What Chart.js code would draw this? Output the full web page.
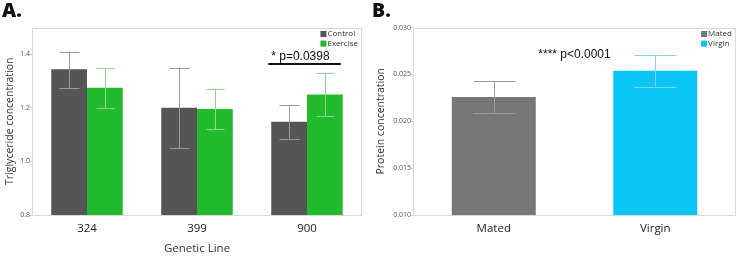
<!DOCTYPE html>
<html>
<head>
<meta charset="utf-8">
<script src="https://cdn.jsdelivr.net/npm/chart.js@4.4.1/dist/chart.umd.min.js"></script>
<style>
  html, body { margin:0; padding:0; background:#fff; }
  #wrap { position:relative; width:740px; height:256px; overflow:hidden; }
  .panel { position:absolute; top:0; width:370px; height:256px; }
  .tag { position:absolute; top:-4px; font:800 19.5px "Open Sans", sans-serif; color:#111; }
</style>
</head>
<body>
<div id="wrap">
  <div class="panel" style="left:0"><canvas id="ca" width="370" height="256"></canvas></div>
  <div class="panel" style="left:370px"><canvas id="cb" width="370" height="256"></canvas></div>
  <div class="tag" style="left:2px">A.</div>
  <div class="tag" style="left:372px">B.</div>
</div>
<script>
// ---------- Data (panel A) ----------
const categoriesA = ['324', '399', '900'];
const seriesNamesA = ['Control', 'Exercise'];
const controlMeans = [1.344, 1.200, 1.148];
const controlLow   = [1.275, 1.050, 1.085];
const controlHigh  = [1.410, 1.350, 1.210];
const exerciseMeans = [1.275, 1.196, 1.250];
const exerciseLow   = [1.200, 1.120, 1.170];
const exerciseHigh  = [1.350, 1.270, 1.330];
const yTicksA = [0.8, 1.0, 1.2, 1.4];
const noteA = '* p=0.0398';
const noteAValue = 1.39;
const noteALineValue = 1.3625;

// ---------- Data (panel B) ----------
const categoriesB = ['Mated', 'Virgin'];
const proteinMeans = [0.0226, 0.0254];
const proteinLow   = [0.0209, 0.0237];
const proteinHigh  = [0.02426, 0.0271];
const yTicksB = [0.010, 0.015, 0.020, 0.025, 0.030];
const noteB = '**** p<0.0001';
const noteBValue = 0.0271;

const AX_FONT = '"Open Sans", sans-serif';

const panelPlugin = {
  id: 'panel',
  beforeDatasetsDraw(chart, args, opts) {
    const { ctx, chartArea: a } = chart;
    ctx.save();
    ctx.strokeStyle = '#d9d9d9';
    ctx.lineWidth = 1;
    ctx.strokeRect(Math.round(a.left) + 0.5, Math.round(a.top) + 0.5,
                   Math.round(a.right - a.left) - 1, Math.round(a.bottom - a.top) - 1);
    ctx.restore();
  },
  afterDatasetsDraw(chart, args, opts) {
    const { ctx, chartArea: a } = chart;
    const y = chart.scales.y;
    ctx.save();
    // error bars
    (opts.errors || []).forEach((e, di) => {
      const meta = chart.getDatasetMeta(di);
      meta.data.forEach((bar, i) => {
        const col = Array.isArray(e.color) ? e.color[i] : e.color;
        const yl = y.getPixelForValue(e.low[i]);
        const yh = y.getPixelForValue(e.high[i]);
        const x = Math.round(bar.x) + 0.5;
        const cw = e.cap / 2;
        ctx.strokeStyle = col;
        ctx.lineWidth = 1;
        ctx.beginPath();
        ctx.moveTo(x, yl); ctx.lineTo(x, yh);
        ctx.moveTo(x - cw, Math.round(yl) + 0.5); ctx.lineTo(x + cw, Math.round(yl) + 0.5);
        ctx.moveTo(x - cw, Math.round(yh) + 0.5); ctx.lineTo(x + cw, Math.round(yh) + 0.5);
        ctx.stroke();
      });
    });
    // legend
    if (opts.legend) {
      ctx.font = '8px ' + AX_FONT;
      const items = opts.legend;
      const maxW = Math.max(...items.map(it => ctx.measureText(it.text).width));
      const sx = a.right - 4 - maxW - 7;
      items.forEach((it, i) => {
        const cy = a.top + 6.5 + i * 9.6;
        ctx.fillStyle = it.color;
        ctx.fillRect(sx, cy - 3, 6, 6);
        ctx.fillStyle = '#333';
        ctx.textBaseline = 'middle';
        ctx.textAlign = 'left';
        ctx.fillText(it.text, sx + 7, cy);
      });
    }
    // annotation
    if (opts.note) {
      const n = opts.note;
      ctx.font = '12px "Liberation Sans", Arial, sans-serif';
      ctx.fillStyle = '#111';
      ctx.textBaseline = 'middle';
      const ty = y.getPixelForValue(n.value);
      if (n.lineValue !== undefined) {
        const m0 = chart.getDatasetMeta(0).data[n.index];
        const m1 = chart.getDatasetMeta(1).data[n.index];
        const x0 = m0.x - m0.width / 2 - 3;
        const x1 = m1.x + m1.width / 2 - 2;
        ctx.textAlign = 'left';
        ctx.fillText(n.text, x0 + 3, ty);
        const ly = Math.round(y.getPixelForValue(n.lineValue));
        ctx.strokeStyle = '#111';
        ctx.lineWidth = 2;
        ctx.beginPath();
        ctx.moveTo(x0, ly); ctx.lineTo(x1, ly);
        ctx.stroke();
      } else {
        const xs = chart.scales.x;
        const cx = (xs.getPixelForValue(0) + xs.getPixelForValue(1)) / 2;
        ctx.textAlign = 'center';
        ctx.fillText(n.text, cx, ty);
      }
    }
    ctx.restore();
  }
};

function yScale(min, max, ticksArr, decimals, title, titlePad, width) {
  return {
    min, max,
    afterBuildTicks: s => { s.ticks = ticksArr.map(v => ({ value: v })); },
    afterFit: s => { s.width = width; },
    ticks: { font: { size: 7, family: AX_FONT }, color: '#555', padding: 0,
             callback: v => Number(v).toFixed(decimals) },
    grid: { display: true, drawOnChartArea: false, drawTicks: true, tickLength: 2, color: '#cfcfcf' },
    border: { display: false },
    title: { display: true, text: title, font: { size: 10.5, family: AX_FONT }, color: '#333',
             padding: { top: titlePad, bottom: 0 } }
  };
}

function xScale(titleText) {
  return {
    afterFit: s => { s.height = 41; },
    ticks: { font: { size: 11.5, family: AX_FONT }, color: '#222', padding: 7 },
    grid: { display: false, drawTicks: false },
    border: { display: false },
    title: { display: !!titleText, text: titleText || '', font: { size: 11.5, family: AX_FONT },
             color: '#333', padding: { top: 0, bottom: 0 } }
  };
}

new Chart(document.getElementById('ca'), {
  type: 'bar',
  data: {
    labels: categoriesA,
    datasets: [
      { label: seriesNamesA[0], data: controlMeans, backgroundColor: '#555555',
        categoryPercentage: 0.65, barPercentage: 1.0 },
      { label: seriesNamesA[1], data: exerciseMeans, backgroundColor: '#22bb2e',
        categoryPercentage: 0.65, barPercentage: 1.0 }
    ]
  },
  options: {
    responsive: false, animation: false,
    layout: { padding: { left: 0, right: 8, top: 27.5, bottom: 0 } },
    plugins: {
      legend: { display: false }, tooltip: { enabled: false },
      panel: {
        errors: [
          { low: controlLow, high: controlHigh, color: '#9a9a9a', cap: 20 },
          { low: exerciseLow, high: exerciseHigh, color: '#8fd68f', cap: 18 }
        ],
        legend: [ { text: seriesNamesA[0], color: '#555555' }, { text: seriesNamesA[1], color: '#22bb2e' } ],
        note: { text: noteA, value: noteAValue, lineValue: noteALineValue, index: 2 }
      }
    },
    scales: {
      x: xScale('Genetic Line'),
      y: yScale(0.8, 1.5, yTicksA, 1, 'Triglyceride concentration', 4, 32)
    }
  },
  plugins: [panelPlugin]
});

new Chart(document.getElementById('cb'), {
  type: 'bar',
  data: {
    labels: categoriesB,
    datasets: [
      { label: 'Protein', data: proteinMeans, backgroundColor: ['#777777', '#0ac5f3'],
        categoryPercentage: 0.52, barPercentage: 1.0 }
    ]
  },
  options: {
    responsive: false, animation: false,
    layout: { padding: { left: 0, right: 4, top: 27.5, bottom: 0 } },
    plugins: {
      legend: { display: false }, tooltip: { enabled: false },
      panel: {
        errors: [ { low: proteinLow, high: proteinHigh, color: ['#9a9a9a', '#7fd3ec'], cap: 42 } ],
        legend: [ { text: categoriesB[0], color: '#777777' }, { text: categoriesB[1], color: '#0ac5f3' } ],
        note: { text: noteB, value: noteBValue }
      }
    },
    scales: {
      x: xScale(null),
      y: yScale(0.010, 0.030, yTicksB, 3, 'Protein concentration', 5, 43)
    }
  },
  plugins: [panelPlugin]
});
</script>
</body>
</html>
